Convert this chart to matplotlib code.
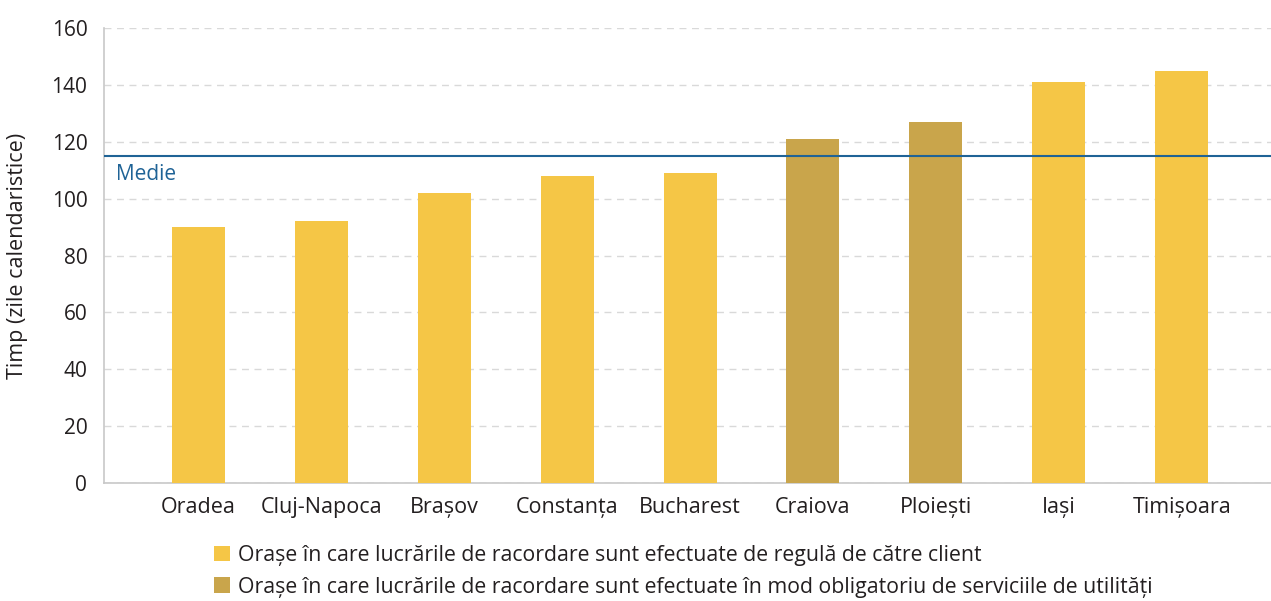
import matplotlib
matplotlib.use("Agg")
import matplotlib.pyplot as plt
from matplotlib.patches import Patch

plt.rcParams['font.family'] = ['Open Sans', 'DejaVu Sans']

cities = ["Oradea", "Cluj-Napoca", "Brașov", "Constanța", "Bucharest",
          "Craiova", "Ploiești", "Iași", "Timișoara"]
days = [90, 92, 102, 108, 109, 121, 127, 141, 145]
group = [0, 0, 0, 0, 0, 1, 1, 0, 0]
mean_value = 115
yticks = [0, 20, 40, 60, 80, 100, 120, 140, 160]
legend_labels = [
    "Orașe în care lucrările de racordare sunt efectuate de regulă de către client",
    "Orașe în care lucrările de racordare sunt efectuate în mod obligatoriu de serviciile de utilități",
]
colors = ["#F5C646", "#C9A54B"]
text_color = "#231F20"

fig = plt.figure(figsize=(12.71, 6.01), dpi=100)
ax = fig.add_axes([104/1271, 1 - 483/601, (1271-104)/1271, (483-28)/601])

x = list(range(len(cities)))
ax.bar(x, days, width=0.431, color=[colors[g] for g in group], zorder=3)
ax.axhline(mean_value, color="#1F6396", lw=1.5, zorder=4)
ax.text(-0.67, mean_value - 2.8, "Medie", color="#1F6396", fontsize=15,
        va="top", ha="left")

ax.set_ylim(0, 160)
ax.set_xlim(-0.769, 8.727)
ax.set_yticks(yticks)
ax.set_xticks(x)
ax.set_xticklabels(cities)
ax.tick_params(axis="both", length=0, colors=text_color)
ax.tick_params(axis="y", pad=12, labelsize=15)
ax.tick_params(axis="x", pad=10, labelsize=15.5)
ax.yaxis.grid(True, color="#D9D9D9", linestyle=(0, (5, 4)), lw=1, zorder=0)
for s in ["top", "right"]:
    ax.spines[s].set_visible(False)
for s in ["left", "bottom"]:
    ax.spines[s].set_color("#C8C8C8")
    ax.spines[s].set_linewidth(1.2)
ax.set_ylabel("Timp (zile calendaristice)", fontsize=15.5, color=text_color)
ax.yaxis.set_label_coords(-0.065, 0.5)

handles = [Patch(facecolor=c, edgecolor="none") for c in colors]
fig.legend(handles, legend_labels, loc="upper left",
           bbox_to_anchor=(214/1271, 1 - 545/601), frameon=False,
           fontsize=15.3, handlelength=0.75, handleheight=0.75,
           handletextpad=0.4, labelspacing=0.5, labelcolor=text_color,
           borderaxespad=0, borderpad=0)

fig.savefig("out.png", dpi=100)
